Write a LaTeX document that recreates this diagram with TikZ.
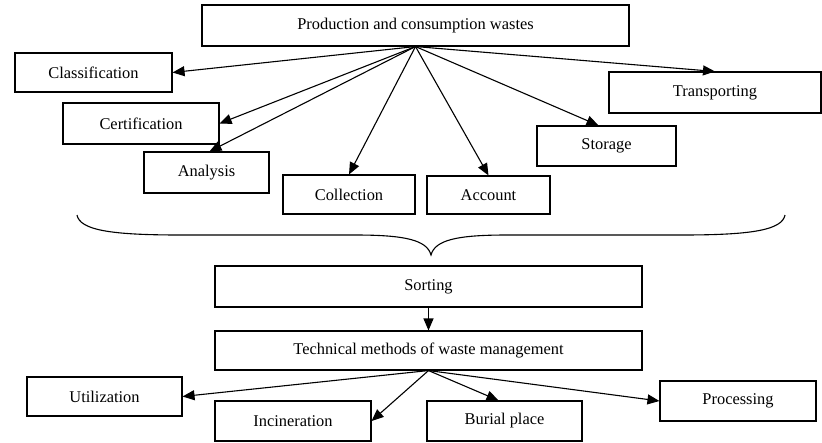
\documentclass[tikz,border=0pt]{standalone}
\usepackage{fontspec}
\setmainfont{Liberation Serif}
\usetikzlibrary{arrows.meta}
\begin{document}
\begin{tikzpicture}[x=1pt,y=-1pt,
  box/.style={draw, line width=1.1pt, inner sep=0pt, align=center,
    font=\fontsize{16.4}{19}\selectfont},
  arr/.style={line width=1.1pt, -{Triangle[length=12pt,width=10pt]}},
  brace/.style={line width=1.1pt}]
\useasboundingbox (0,0) rectangle (822,442);
% top level
\node[box, minimum width=427, minimum height=41] (top) at (415.5,25.5) {Production and consumption wastes};
\node[box, minimum width=157, minimum height=39] (clas) at (93.5,72.5) {Classification};
\node[box, minimum width=156, minimum height=41] (cert) at (141,123.5) {Certification};
\node[box, minimum width=125, minimum height=41] (anal) at (206.5,172.5) {Analysis};
\node[box, minimum width=132, minimum height=39] (coll) at (349,194.5) {Collection};
\node[box, minimum width=123, minimum height=38] (acc) at (488.5,195) {Account};
\node[box, minimum width=139, minimum height=40] (stor) at (606.5,146) {Storage};
\node[box, minimum width=212, minimum height=41] (trans) at (715,92.5) {Transporting};
% arrows from top
\draw[arr] (top.south) -- (clas.east);
\draw[arr] (top.south) -- (cert.east);
\draw[arr] (top.south) -- ([xshift=66pt]anal.north west);
\draw[arr] (top.south) -- (coll.north);
\draw[arr] (top.south) -- (acc.north);
\draw[arr] (top.south) -- ([xshift=-8pt]stor.north);
\draw[arr] (top.south) -- (trans.north);
% brace
\draw[brace] (77,215) .. controls (80,230) and (110,235) .. (180,235)
  -- (355,235) .. controls (405,235) and (427,240) .. (431,255)
  .. controls (435,240) and (457,235) .. (507,235)
  -- (682,235) .. controls (752,235) and (782,230) .. (785,215);
% lower part
\node[box, minimum width=427, minimum height=41] (sort) at (428.5,286.5) {Sorting};
\node[box, minimum width=427, minimum height=39] (tech) at (428.5,350.5) {Technical methods of waste management};
\node[box, minimum width=155, minimum height=39] (util) at (104.5,396.5) {Utilization};
\node[box, minimum width=156, minimum height=40] (inc) at (293,421) {Incineration};
\node[box, minimum width=155, minimum height=40] (bur) at (504.5,421) {Burial place};
\node[box, minimum width=156, minimum height=40] (proc) at (738,401) {Processing};
\draw[arr] (sort.south) -- (tech.north);
\draw[arr] (tech.south) -- (util.east);
\draw[arr] (tech.south) -- (inc.east);
\draw[arr] (tech.south) -- ([xshift=-6pt]bur.north);
\draw[arr] (tech.south) -- (proc.west);
\end{tikzpicture}
\end{document}
